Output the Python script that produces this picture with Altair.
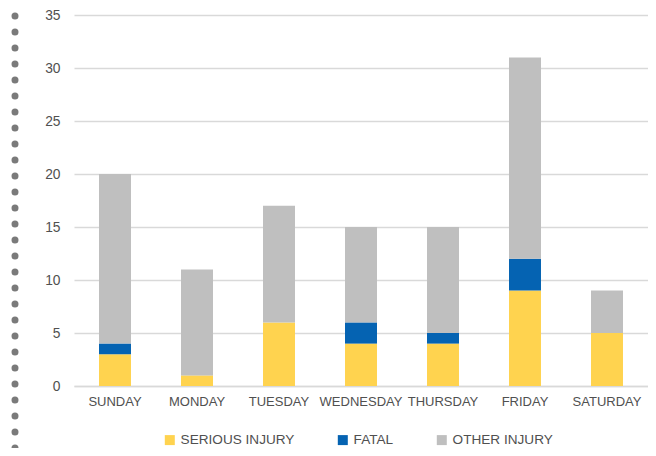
import altair as alt
import pandas as pd

days = ["SUNDAY", "MONDAY", "TUESDAY", "WEDNESDAY", "THURSDAY", "FRIDAY", "SATURDAY"]
serious = [3, 1, 6, 4, 4, 9, 5]
fatal = [1, 0, 0, 2, 1, 3, 0]
other = [16, 10, 11, 9, 10, 19, 4]

series = ["SERIOUS INJURY", "FATAL", "OTHER INJURY"]
colors = ["#FFD34F", "#0563B2", "#BFBFBF"]

rows = []
for i, d in enumerate(days):
    for k, (name, vals) in enumerate(zip(series, [serious, fatal, other])):
        rows.append({"day": d, "series": name, "value": vals[i], "order": k})
df = pd.DataFrame(rows)

FONT = "Liberation Sans"
TXT = "#505050"

bars = alt.Chart(df).mark_bar().encode(
    x=alt.X("day:N", sort=days, title=None,
            scale=alt.Scale(paddingInner=0.61, paddingOuter=0.305),
            axis=alt.Axis(labelAngle=0, labelFontSize=13, labelColor=TXT,
                          labelFont=FONT, labelPadding=9, ticks=False,
                          domainColor="#D9D9D9", domainWidth=1.5, grid=False)),
    y=alt.Y("value:Q", stack="zero", title=None,
            scale=alt.Scale(domain=[0, 35]),
            axis=alt.Axis(values=[0, 5, 10, 15, 20, 25, 30, 35], labelFontSize=13.8,
                          labelColor=TXT, labelFont=FONT, labelPadding=14,
                          ticks=False, domain=False, gridColor="#D9D9D9",
                          gridWidth=1.5)),
    color=alt.Color("series:N", title=None,
                    scale=alt.Scale(domain=series, range=colors),
                    legend=alt.Legend(orient="none", legendX=89, legendY=418,
                                      direction="horizontal", symbolType="square",
                                      symbolSize=100, symbolStrokeWidth=0,
                                      labelFontSize=13.6, labelColor=TXT,
                                      labelFont=FONT, labelOffset=4,
                                      columnPadding=41)),
    order=alt.Order("order:Q"),
)

dots = alt.Chart(alt.Data(values=[{"a": 1}])).mark_rule(
    color="#7A7A7A", strokeWidth=7, strokeCap="round", strokeDash=[0, 16]
).encode(x=alt.value(-59), y=alt.value(1), y2=alt.value(436))

chart = alt.layer(bars, dots).properties(
    width=574, height=371,
    autosize=alt.AutoSizeParams(type="none"),
    padding={"left": 66, "top": 7, "right": 0, "bottom": 62},
).configure_view(stroke=None)

chart.save("out.html", embed_options={"renderer": "svg", "actions": False})
